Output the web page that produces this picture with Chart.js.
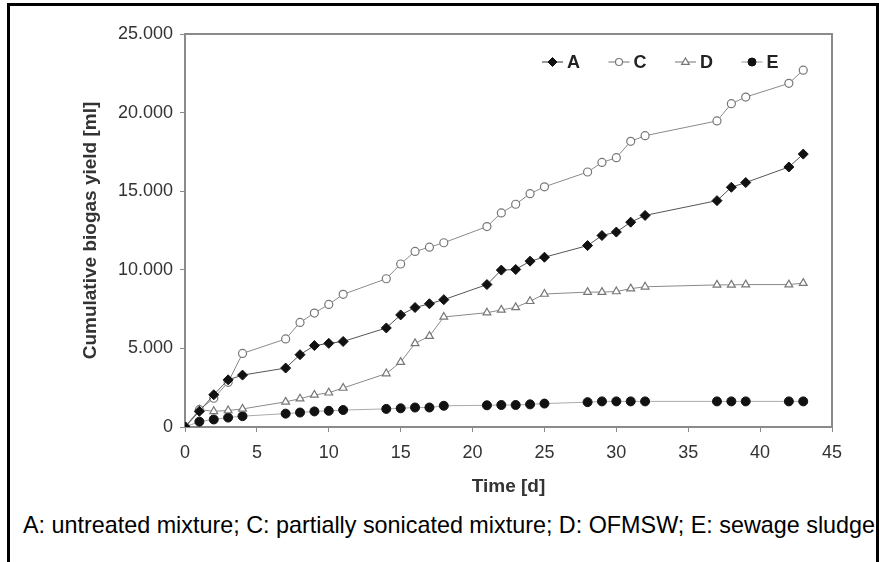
<!DOCTYPE html>
<html>
<head>
<meta charset="utf-8">
<script src="https://cdn.jsdelivr.net/npm/chart.js@4.4.1/dist/chart.umd.min.js"></script>
<style>
  html, body { margin: 0; padding: 0; background: #fff; }
  body { width: 879px; height: 562px; position: relative; overflow: hidden; }
  #frame {
    position: absolute; left: 7px; top: 3px; width: 866px; height: 570px;
    border-left: 3px solid #000; border-top: 3px solid #000; border-right: 3px solid #000;
  }
  #wrap { position: absolute; left: 0; top: 0; width: 879px; height: 510px; }
  #caption {
    position: absolute; left: 23px; top: 513px; white-space: nowrap; line-height: 1;
    font-family: "Liberation Sans Narrow", "Liberation Sans", Arial, sans-serif;
    font-size: 24px; color: #000; transform-origin: 0 0;
  }
</style>
</head>
<body>
<div id="frame"></div>
<div id="wrap"><canvas id="biogasChart" width="879" height="510"></canvas></div>
<div id="caption">A: untreated mixture; C: partially sonicated mixture; D: OFMSW; E: sewage sludge</div>
<script>
// sampling days (same for every series)
const days = [0, 1, 2, 3, 4, 7, 8, 9, 10, 11, 14, 15, 16, 17, 18, 21, 22, 23, 24, 25, 28, 29, 30, 31, 32, 37, 38, 39, 42, 43];

// cumulative biogas yield [ml]
const seriesA = [0, 1000, 2050, 3000, 3300, 3750, 4600, 5180, 5320, 5440, 6300, 7130, 7600, 7840, 8100, 9060, 9980, 10020, 10550, 10800, 11540, 12180, 12400, 13030, 13460, 14400, 15250, 15550, 16540, 17360];
const seriesC = [0, 1100, 1830, 2840, 4680, 5600, 6650, 7250, 7800, 8440, 9430, 10370, 11170, 11440, 11720, 12750, 13620, 14170, 14840, 15280, 16220, 16830, 17130, 18170, 18530, 19470, 20570, 20990, 21860, 22700];
const seriesD = [0, 1100, 1000, 1050, 1150, 1600, 1800, 2040, 2180, 2480, 3400, 4130, 5320, 5780, 7000, 7270, 7450, 7610, 8000, 8460, 8580, 8580, 8620, 8800, 8920, 9040, 9040, 9060, 9060, 9150];
const seriesE = [0, 340, 480, 600, 690, 850, 920, 990, 1030, 1080, 1150, 1190, 1240, 1240, 1350, 1380, 1400, 1400, 1440, 1490, 1580, 1630, 1630, 1630, 1630, 1630, 1630, 1630, 1630, 1630];

const labels = ["A", "C", "D", "E"];
const xTicks = [0, 5, 10, 15, 20, 25, 30, 35, 40, 45];
const yTicks = [0, 5000, 10000, 15000, 20000, 25000];

function toPoints(vals) {
  return vals.map((v, i) => ({ x: days[i], y: v }));
}

function fmtThousands(v) {
  if (v === 0) return "0";
  return Math.floor(v / 1000) + "." + String(v % 1000).padStart(3, "0");
}

const FONT = '"Liberation Sans", Arial, sans-serif';

// gray box round the plot area
const boxPlugin = {
  id: "box",
  afterDraw(chart) {
    const { ctx, chartArea: a } = chart;
    ctx.save();
    ctx.strokeStyle = "#8a8a8a";
    ctx.lineWidth = 2;
    ctx.beginPath();
    ctx.moveTo(a.left, a.top);
    ctx.lineTo(a.right, a.top);
    ctx.lineTo(a.right, a.bottom);
    ctx.stroke();
    ctx.restore();
  },
};

function drawMarker(ctx, style, r, x, y) {
  if (style === "rectRot") {
    ctx.moveTo(x, y - r);
    ctx.lineTo(x + r, y);
    ctx.lineTo(x, y + r);
    ctx.lineTo(x - r, y);
    ctx.closePath();
  } else if (style === "triangle") {
    ctx.moveTo(x, y - r);
    ctx.lineTo(x + r * 0.95, y + r * 0.6);
    ctx.lineTo(x - r * 0.95, y + r * 0.6);
    ctx.closePath();
  } else {
    ctx.arc(x, y, r, 0, Math.PI * 2);
  }
}

// legend inside the plot, line + marker + label
const insideLegend = {
  id: "insideLegend",
  afterDraw(chart) {
    const { ctx, chartArea: a } = chart;
    const y = 62;
    let x = a.left + 357;
    ctx.save();
    chart.data.datasets.forEach((ds) => {
      ctx.strokeStyle = ds.borderColor;
      ctx.lineWidth = 1.2;
      ctx.beginPath();
      ctx.moveTo(x, y);
      ctx.lineTo(x + 21, y);
      ctx.stroke();
      ctx.fillStyle = ds.pointBackgroundColor;
      ctx.strokeStyle = ds.pointBorderColor;
      ctx.lineWidth = ds.pointBorderWidth;
      ctx.beginPath();
      drawMarker(ctx, ds.pointStyle, ds.pointRadius - 0.5, x + 10.5, y);
      ctx.fill();
      ctx.stroke();
      ctx.fillStyle = "#222";
      ctx.font = "bold 18px " + FONT;
      ctx.textBaseline = "middle";
      ctx.textAlign = "left";
      ctx.fillText(ds.label, x + 25, y + 1);
      x += 66.5;
    });
    ctx.restore();
  },
};

const ctx = document.getElementById("biogasChart").getContext("2d");
new Chart(ctx, {
  type: "line",
  data: {
    datasets: [
      {
        label: labels[0],
        data: toPoints(seriesA),
        borderColor: "#555",
        borderWidth: 1,
        pointStyle: "rectRot",
        pointRadius: 5,
        pointBackgroundColor: "#111",
        pointBorderColor: "#111",
        pointBorderWidth: 1,
      },
      {
        label: labels[1],
        data: toPoints(seriesC),
        borderColor: "#8a8a8a",
        borderWidth: 1,
        pointStyle: "circle",
        pointRadius: 4,
        pointBackgroundColor: "#fff",
        pointBorderColor: "#777",
        pointBorderWidth: 1.2,
      },
      {
        label: labels[2],
        data: toPoints(seriesD),
        borderColor: "#8a8a8a",
        borderWidth: 1,
        pointStyle: "triangle",
        pointRadius: 4.5,
        pointBackgroundColor: "#fff",
        pointBorderColor: "#777",
        pointBorderWidth: 1.2,
      },
      {
        label: labels[3],
        data: toPoints(seriesE),
        borderColor: "#aaa",
        borderWidth: 1,
        pointStyle: "circle",
        pointRadius: 4.5,
        pointBackgroundColor: "#111",
        pointBorderColor: "#111",
        pointBorderWidth: 1,
      },
    ],
  },
  options: {
    responsive: false,
    animation: false,
    layout: { padding: { left: 79, top: 34, right: 47, bottom: 12 } },
    plugins: { legend: { display: false }, tooltip: { enabled: false } },
    scales: {
      x: {
        type: "linear",
        min: 0,
        max: 45,
        afterFit: (s) => { s.height = 71; },
        afterBuildTicks: (s) => { s.ticks = xTicks.map((v) => ({ value: v })); },
        grid: { drawOnChartArea: false, drawTicks: true, tickLength: 5, color: "#8a8a8a", lineWidth: 1 },
        border: { display: true, color: "#8a8a8a", width: 2 },
        ticks: { color: "#333", padding: 10, font: { family: FONT, size: 18 } },
        title: {
          display: true,
          text: "Time [d]",
          color: "#333",
          padding: 0,
          font: { family: FONT, size: 19, weight: "bold" },
        },
      },
      y: {
        min: 0,
        max: 25000,
        afterFit: (s) => { s.width = 106; },
        afterBuildTicks: (s) => { s.ticks = yTicks.map((v) => ({ value: v })); },
        grid: { drawOnChartArea: false, drawTicks: true, tickLength: 5, color: "#8a8a8a", lineWidth: 1 },
        border: { display: true, color: "#8a8a8a", width: 2 },
        ticks: {
          color: "#333",
          padding: 7,
          font: { family: FONT, size: 18 },
          callback: (v) => fmtThousands(v),
        },
        title: {
          display: true,
          text: "Cumulative biogas yield [ml]",
          color: "#333",
          padding: 0,
          font: { family: FONT, size: 19, weight: "bold" },
        },
      },
    },
  },
  plugins: [boxPlugin, insideLegend],
});

// stretch the caption to the width it has in the figure
const cap = document.getElementById("caption");
const w = cap.getBoundingClientRect().width;
cap.style.transform = "scaleX(" + (852 / w) + ")";
</script>
</body>
</html>
